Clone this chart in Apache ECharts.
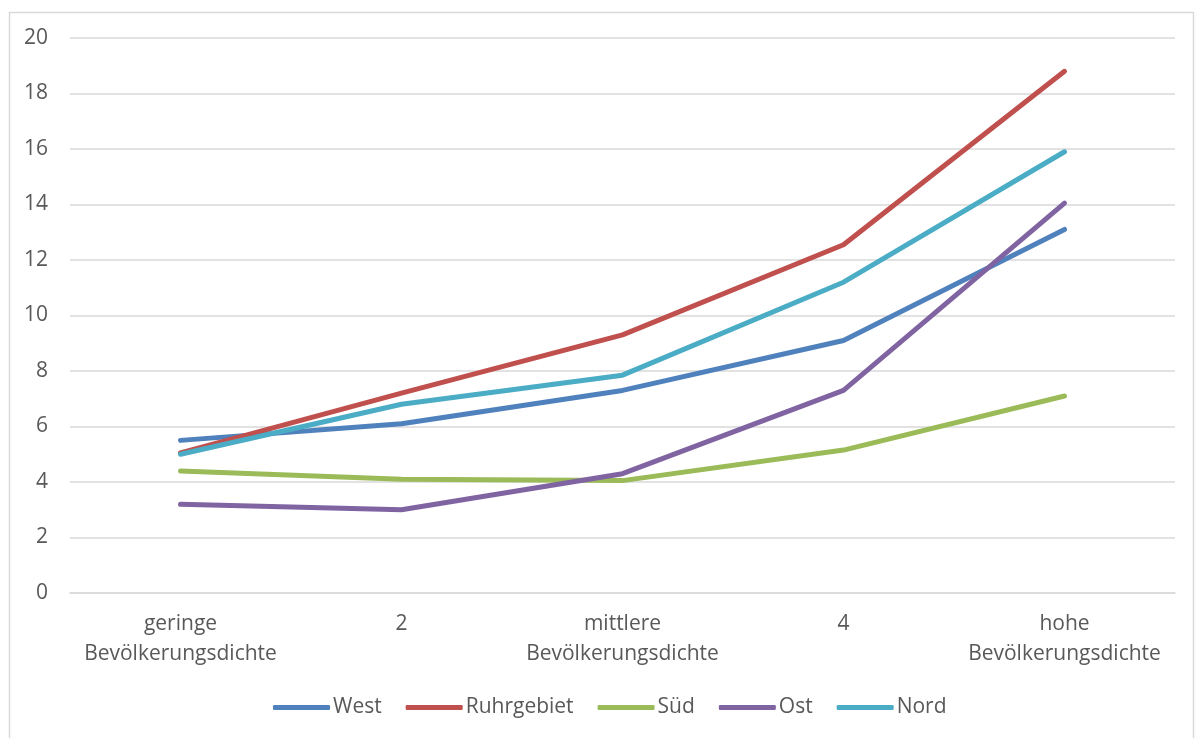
<!DOCTYPE html>
<html>
<head>
<meta charset="utf-8">
<script src="https://cdn.jsdelivr.net/npm/echarts@6/dist/echarts.min.js"></script>
<style>
html,body{margin:0;padding:0;background:#fff;}
#chart{width:1200px;height:738px;}
</style>
</head>
<body>
<div id="chart"></div>
<script>
const categories = ['geringe\nBevölkerungsdichte', '2', 'mittlere\nBevölkerungsdichte', '4', 'hohe\nBevölkerungsdichte'];
const seriesNames = ['West', 'Ruhrgebiet', 'Süd', 'Ost', 'Nord'];
const west = [5.5, 6.1, 7.3, 9.1, 13.1];
const ruhrgebiet = [5.05, 7.2, 9.3, 12.55, 18.8];
const sued = [4.4, 4.1, 4.05, 5.15, 7.1];
const ost = [3.2, 3.0, 4.3, 7.3, 14.05];
const nord = [5.0, 6.8, 7.85, 11.2, 15.9];
const colors = ['#4F81BD', '#C0504D', '#9BBB59', '#8064A2', '#4BACC6'];
const yTicks = {min: 0, max: 20, interval: 2};

const FONT = '"Open Sans", sans-serif';
const chart = echarts.init(document.getElementById('chart'), null, {renderer: 'canvas'});
const dataSets = [west, ruhrgebiet, sued, ost, nord];
chart.setOption({
  animation: false,
  color: colors,
  graphic: [{
    type: 'rect', left: 7, top: 10,
    shape: {width: 1184, height: 740},
    style: {fill: 'none', stroke: '#d9d9d9', lineWidth: 1.5}
  }],
  grid: {left: 70, right: 25, top: 38, bottom: 145, containLabel: false},
  legend: {
    bottom: 15, left: 268,
    itemWidth: 57, itemHeight: 5, itemGap: 24,
    icon: 'roundRect',
    textStyle: {fontFamily: FONT, fontSize: 21, color: '#595959', padding: [0, 0, 0, -2]},
    data: seriesNames
  },
  xAxis: {
    type: 'category', data: categories, boundaryGap: true,
    axisLine: {show: true, lineStyle: {color: '#d9d9d9', width: 1.5}},
    axisTick: {show: false},
    axisLabel: {fontFamily: FONT, fontSize: 21, color: '#595959', lineHeight: 30, margin: 16, interval: 0}
  },
  yAxis: {
    type: 'value', min: yTicks.min, max: yTicks.max, interval: yTicks.interval,
    axisLine: {show: false}, axisTick: {show: false},
    axisLabel: {fontFamily: FONT, fontSize: 21, color: '#595959', margin: 22},
    splitLine: {lineStyle: {color: '#d9d9d9', width: 1.5}}
  },
  series: seriesNames.map((n, i) => ({
    name: n, type: 'line', data: dataSets[i],
    symbol: 'none', lineStyle: {width: 5, cap: 'round', join: 'round'}
  }))
});
</script>
</body>
</html>
